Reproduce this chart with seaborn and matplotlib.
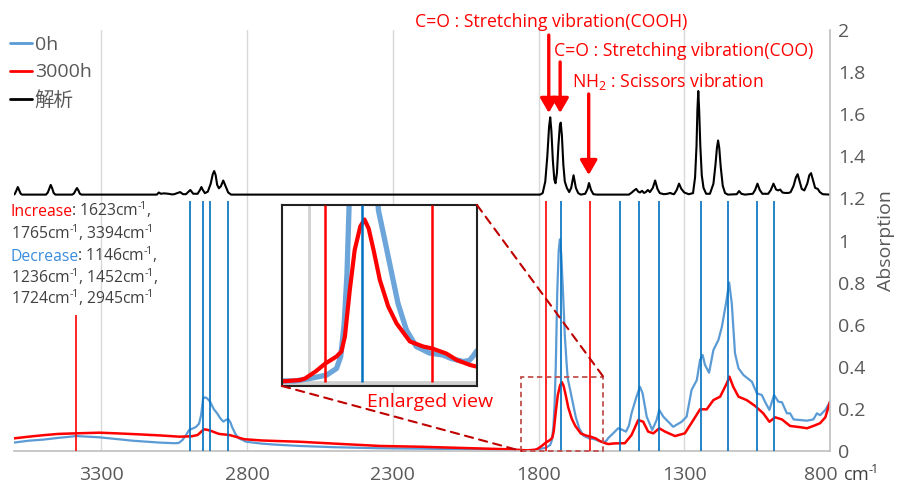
import matplotlib
matplotlib.use('Agg')
import numpy as np
import pandas as pd
import matplotlib.pyplot as plt
import seaborn as sns
from matplotlib.patches import Rectangle, ConnectionPatch
from matplotlib.lines import Line2D
from matplotlib.transforms import ScaledTranslation

# ---------------- data ----------------
series_names = ["0h", "3000h", "解析"]

wn_0h = [3600, 3549, 3500, 3450, 3386, 3307, 3250, 3194, 3101, 3050, 3035, 3022, 3010, 2999, 2985,
         2975, 2965, 2958, 2951, 2945, 2937, 2927, 2915, 2903, 2892, 2882, 2872, 2865, 2857, 2852,
         2840, 2828, 2803, 2750, 2700, 2621, 2500, 2345, 2200, 2002, 1900, 1820, 1798, 1774, 1760,
         1754, 1749, 1745, 1741, 1736, 1731, 1727, 1722, 1716, 1710, 1704, 1700, 1696, 1691, 1681,
         1672, 1660, 1646, 1627, 1608, 1596, 1579, 1570, 1565, 1560, 1544, 1527, 1515, 1500, 1490,
         1481, 1464, 1452, 1443, 1429, 1410, 1395, 1386, 1372, 1355, 1338, 1309, 1292, 1275, 1257,
         1246, 1237, 1229, 1215, 1200, 1183, 1171, 1157, 1146, 1137, 1126, 1114, 1097, 1068, 1051,
         1034, 1023, 1008, 992, 977, 965, 948, 937, 925, 902, 879, 857, 845, 834, 816, 800]
abs_0h = [0.040, 0.049, 0.054, 0.062, 0.071, 0.065, 0.057, 0.049, 0.040, 0.037, 0.038, 0.052, 0.075, 0.100, 0.108,
          0.115, 0.130, 0.170, 0.250, 0.255, 0.250, 0.234, 0.200, 0.179, 0.155, 0.140, 0.148, 0.152, 0.135, 0.115,
          0.080, 0.060, 0.044, 0.035, 0.030, 0.024, 0.018, 0.013, 0.011, 0.008, 0.005, 0.004, 0.009, 0.016, 0.029,
          0.053, 0.119, 0.219, 0.400, 0.750, 0.950, 1.005, 0.930, 0.750, 0.550, 0.420, 0.345, 0.319, 0.286, 0.219,
          0.159, 0.106, 0.073, 0.060, 0.056, 0.049, 0.043, 0.045, 0.053, 0.063, 0.084, 0.108, 0.102, 0.092, 0.120,
          0.179, 0.258, 0.305, 0.274, 0.163, 0.100, 0.147, 0.195, 0.163, 0.139, 0.115, 0.139, 0.163, 0.290, 0.337,
          0.432, 0.456, 0.409, 0.372, 0.480, 0.527, 0.590, 0.700, 0.800, 0.700, 0.464, 0.393, 0.361, 0.329, 0.274,
          0.266, 0.234, 0.195, 0.266, 0.234, 0.232, 0.179, 0.179, 0.150, 0.147, 0.144, 0.150, 0.179, 0.170, 0.195, 0.234]

wn_3000h = [3600, 3550, 3500, 3450, 3386, 3307, 3250, 3170, 3100, 3032, 2990, 2970, 2955, 2947, 2935,
            2923, 2910, 2896, 2875, 2861, 2840, 2810, 2750, 2689, 2621, 2500, 2345, 2200, 2000, 1900,
            1840, 1812, 1805, 1790, 1776, 1760, 1753, 1748, 1741, 1734, 1726, 1720, 1714, 1707, 1698,
            1686, 1674, 1655, 1636, 1623, 1603, 1588, 1569, 1560, 1540, 1504, 1481, 1458, 1441, 1424,
            1406, 1386, 1366, 1332, 1298, 1269, 1246, 1223, 1200, 1177, 1154, 1145, 1132, 1114, 1086,
            1057, 1029, 1008, 988, 965, 937, 902, 879, 857, 834, 816, 800]
abs_3000h = [0.060, 0.068, 0.075, 0.081, 0.084, 0.087, 0.084, 0.079, 0.074, 0.068, 0.070, 0.076, 0.095, 0.103, 0.100,
             0.095, 0.088, 0.081, 0.078, 0.076, 0.068, 0.056, 0.050, 0.047, 0.044, 0.035, 0.024, 0.020, 0.012, 0.008,
             0.003, 0.006, 0.009, 0.023, 0.039, 0.053, 0.063, 0.093, 0.186, 0.266, 0.313, 0.327, 0.309, 0.266, 0.206,
             0.153, 0.119, 0.083, 0.073, 0.069, 0.059, 0.046, 0.036, 0.033, 0.036, 0.037, 0.076, 0.147, 0.139, 0.092,
             0.084, 0.108, 0.092, 0.071, 0.084, 0.147, 0.198, 0.198, 0.242, 0.258, 0.322, 0.353, 0.305, 0.258, 0.242,
             0.214, 0.179, 0.139, 0.160, 0.150, 0.119, 0.113, 0.108, 0.119, 0.132, 0.160, 0.234]

wn_calc = [3600, 3597, 3591, 3587, 3582, 3577, 3572, 3490, 3484, 3478, 3474, 3469, 3464, 3458, 3400,
           3394, 3388, 3384, 3379, 3374, 3368, 3110, 3103, 3096, 3085, 3070, 3058, 3050, 3030, 3020,
           3010, 2995, 2985, 2970, 2961, 2957, 2952, 2945, 2935, 2925, 2918, 2913, 2908, 2903, 2897,
           2890, 2882, 2875, 2865, 2855, 1795, 1786, 1777, 1770, 1764, 1760, 1756, 1751, 1746, 1742,
           1737, 1732, 1727, 1724, 1720, 1715, 1710, 1703, 1695, 1688, 1680, 1672, 1664, 1655, 1640,
           1632, 1627, 1620, 1612, 1600, 1490, 1480, 1472, 1465, 1458, 1452, 1445, 1438, 1432, 1425,
           1418, 1408, 1400, 1392, 1384, 1370, 1358, 1348, 1342, 1335, 1326, 1318, 1310, 1300, 1285,
           1270, 1263, 1258, 1255, 1252, 1249, 1245, 1240, 1234, 1225, 1212, 1200, 1193, 1188, 1184,
           1180, 1175, 1168, 1160, 1150, 1120, 1112, 1104, 1092, 1065, 1057, 1049, 1041, 1032, 1012,
           1003, 994, 985, 978, 971, 963, 955, 942, 935, 925, 917, 911, 905, 897, 888,
           878, 871, 865, 859, 851, 842, 835, 825, 800]
abs_calc = [1.218, 1.222, 1.240, 1.254, 1.238, 1.222, 1.218, 1.218, 1.228, 1.250, 1.264, 1.248, 1.226, 1.218, 1.218,
            1.224, 1.240, 1.249, 1.238, 1.222, 1.218, 1.218, 1.228, 1.222, 1.224, 1.222, 1.219, 1.220, 1.230, 1.220,
            1.220, 1.240, 1.222, 1.222, 1.242, 1.254, 1.240, 1.225, 1.232, 1.270, 1.315, 1.330, 1.310, 1.265, 1.248,
            1.258, 1.285, 1.262, 1.228, 1.218, 1.218, 1.225, 1.280, 1.400, 1.540, 1.585, 1.520, 1.380, 1.290, 1.272,
            1.320, 1.450, 1.545, 1.560, 1.500, 1.360, 1.280, 1.250, 1.230, 1.250, 1.310, 1.250, 1.225, 1.218, 1.222,
            1.245, 1.273, 1.240, 1.220, 1.218, 1.218, 1.228, 1.238, 1.245, 1.232, 1.228, 1.236, 1.226, 1.230, 1.240,
            1.230, 1.250, 1.285, 1.245, 1.225, 1.220, 1.222, 1.226, 1.222, 1.220, 1.240, 1.270, 1.245, 1.228, 1.220,
            1.225, 1.300, 1.450, 1.620, 1.710, 1.620, 1.450, 1.310, 1.250, 1.222, 1.222, 1.270, 1.360, 1.440, 1.475,
            1.440, 1.350, 1.260, 1.225, 1.218, 1.220, 1.235, 1.222, 1.218, 1.222, 1.240, 1.270, 1.240, 1.222, 1.222,
            1.240, 1.270, 1.242, 1.238, 1.242, 1.228, 1.226, 1.226, 1.230, 1.260, 1.300, 1.315, 1.285, 1.245, 1.238,
            1.270, 1.310, 1.320, 1.290, 1.250, 1.245, 1.230, 1.220, 1.218]

increase_lines = [1776, 1623]          # red marker lines
increase_short_line = 3386             # red marker line under the text block
decrease_lines = [2996, 2951, 2929, 2866, 1724, 1519, 1455, 1386, 1243, 1150, 1049, 991]

x_ticks = [3300, 2800, 2300, 1800, 1300, 800]
y_ticks = [0, 0.2, 0.4, 0.6, 0.8, 1, 1.2, 1.4, 1.6, 1.8, 2]
y_tick_labels = ["0", "0.2", "0.4", "0.6", "0.8", "1", "1.2", "1.4", "1.6", "1.8", "2"]

zoom_x = (1859, 1578)      # dashed rectangle / enlarged region
zoom_y = (0.0, 0.353)
inset_xlim = (1838, 1559)
inset_ylim = (-0.006, 0.356)
inset_lines_red = [1776, 1623]
inset_lines_blue = [1724]

arrows = [(1765, 1.976, 1.606), (1726, 1.848, 1.606), (1628, 1.696, 1.311)]

SUP = '$^{\u2010\\!1}$'

# ---------------- styling ----------------
sns.set_theme(style='white')
plt.rcParams['font.family'] = ['Open Sans', 'Noto Sans CJK JP', 'DejaVu Sans']
plt.rcParams['mathtext.fontset'] = 'custom'
plt.rcParams['mathtext.rm'] = 'Open Sans'
plt.rcParams['mathtext.it'] = 'Open Sans:italic'
plt.rcParams['mathtext.bf'] = 'Open Sans:bold'
plt.rcParams['mathtext.default'] = 'regular'

C_BLUE = '#5B9BD5'
C_RED = '#FF0000'
C_VBLUE = '#0070C0'
C_GRAY = '#595959'
C_DARK = '#404040'

W, H = 898, 486
fig = plt.figure(figsize=(W / 100, H / 100), dpi=100)


def fx(px):
    return px / W


def fy(py):
    return 1 - py / H


ax = fig.add_axes([fx(14), fy(451), fx(830) - fx(14), fy(30) - fy(451)])

df0 = pd.DataFrame({'wn': wn_0h, 'abs': abs_0h})
df1 = pd.DataFrame({'wn': wn_3000h, 'abs': abs_3000h})
dfc = pd.DataFrame({'wn': wn_calc, 'abs': abs_calc})

sns.lineplot(data=df0, x='wn', y='abs', ax=ax, color=C_BLUE, lw=1.6, sort=False, estimator=None, zorder=2)
sns.lineplot(data=df1, x='wn', y='abs', ax=ax, color=C_RED, lw=1.8, sort=False, estimator=None, zorder=2.1)
sns.lineplot(data=dfc, x='wn', y='abs', ax=ax, color='black', lw=1.5, sort=False, estimator=None, zorder=2.2)

ax.vlines(increase_lines, 0, 1.19, color=C_RED, lw=1.2, zorder=3)
ax.vlines([increase_short_line], 0, 0.646, color=C_RED, lw=1.2, zorder=3)
ax.vlines(decrease_lines, 0, 1.19, color=C_VBLUE, lw=1.2, zorder=3)

ax.set_xlim(3600, 800)
ax.set_ylim(0, 2)
ax.set_xticks(x_ticks)
ax.set_xticklabels([str(t) for t in x_ticks])
ax.set_yticks(y_ticks)
ax.set_yticklabels(y_tick_labels)
ax.yaxis.tick_right()
ax.yaxis.set_label_position('right')
ax.tick_params(axis='both', length=0, labelsize=14, labelcolor=C_GRAY)
ax.tick_params(axis='x', pad=11)
ax.tick_params(axis='y', pad=6)
ax.set_xlabel('')
ax.set_ylabel('Absorption', fontsize=14, color=C_GRAY, labelpad=8)
ax.grid(False)
for xt in x_ticks[:-1]:
    ax.axvline(xt, color='#D9D9D9', lw=1, zorder=0)
for s in ['left', 'top']:
    ax.spines[s].set_visible(False)
for s in ['right', 'bottom']:
    ax.spines[s].set_color('#BFBFBF')
    ax.spines[s].set_linewidth(1.2)

# shift the 800 label a bit to the left, as in the reference
lab800 = ax.get_xticklabels()[-1]
lab800.set_transform(lab800.get_transform() + ScaledTranslation(-9 / 100, 0, fig.dpi_scale_trans))

fig.text(fx(843), fy(475), 'cm' + SUP, fontsize=13, color=C_DARK, ha='left', va='center')

# legend
handles = [Line2D([], [], color=C_BLUE, lw=2), Line2D([], [], color=C_RED, lw=2),
           Line2D([], [], color='black', lw=2)]
fig.legend(handles, series_names, loc='upper left', bbox_to_anchor=(fx(10), fy(36)),
           frameon=False, fontsize=14, labelcolor=C_GRAY, handlelength=1.15,
           handletextpad=0.12, labelspacing=0.48, borderpad=0, borderaxespad=0)

# arrows
for xw, y0, y1 in arrows:
    ax.annotate('', xy=(xw, y1), xytext=(xw, y0), xycoords='data', textcoords='data',
                arrowprops=dict(arrowstyle='-|>,head_length=0.55,head_width=0.32', color=C_RED,
                                lw=2.4, mutation_scale=16, shrinkA=0, shrinkB=0),
                annotation_clip=False, zorder=5)

# peak annotations
fig.text(fx(415), fy(22), 'C=O : Stretching vibration(COOH)', fontsize=12.7, color=C_RED, ha='left', va='center')
fig.text(fx(554), fy(51), 'C=O : Stretching vibration(COO)', fontsize=12.7, color=C_RED, ha='left', va='center')
fig.text(fx(572), fy(81), 'NH$_{2}$ : Scissors vibration', fontsize=12.7, color=C_RED, ha='left', va='center')

# increase / decrease text block
lines_txt = [
    [('Increase', C_RED), (': 1623cm' + SUP + ',', C_DARK)],
    [('1765cm' + SUP + ', 3394cm' + SUP, C_DARK)],
    [('Decrease', '#3A8DDE'), (': 1146cm' + SUP + ',', C_DARK)],
    [('1236cm' + SUP + ', 1452cm' + SUP + ',', C_DARK)],
    [('1724cm' + SUP + ', 2945cm' + SUP, C_DARK)],
]
line_y = [213, 236, 258, 280, 301]
for pieces, py in zip(lines_txt, line_y):
    last = None
    for txt, col in pieces:
        if last is None:
            last = fig.text(fx(11), fy(py + 7), txt, fontsize=11.3, color=col, ha='left', va='bottom')
        else:
            last = ax.annotate(txt, xy=(1, 0), xycoords=last, xytext=(-1.5, 0), textcoords='offset points',
                               fontsize=11.3, color=col, ha='left', va='bottom', annotation_clip=False)

# dashed rectangle on the main chart
ax.add_patch(Rectangle((zoom_x[0], zoom_y[0]), zoom_x[1] - zoom_x[0], zoom_y[1] - zoom_y[0],
                       fill=False, ls=(0, (3, 2)), ec='#C0504D', lw=1.3, zorder=4, clip_on=False))

# inset (enlarged view)
axi = fig.add_axes([fx(282), fy(386), fx(477) - fx(282), fy(205) - fy(386)])
axi.axvline(1800, color='#D0D0D0', lw=2, zorder=0)
axi.axhline(0, color='#D0D0D0', lw=3.5, zorder=0)
sns.lineplot(data=df0, x='wn', y='abs', ax=axi, color=C_BLUE, lw=3.8, alpha=0.9, sort=False, estimator=None, zorder=2)
sns.lineplot(data=df1, x='wn', y='abs', ax=axi, color=C_RED, lw=3.0, sort=False, estimator=None, zorder=2.1)
axi.vlines(inset_lines_red, 0.003, inset_ylim[1], color=C_RED, lw=1.8, zorder=3)
axi.vlines(inset_lines_blue, 0.003, inset_ylim[1], color=C_VBLUE, lw=1.8, zorder=3)
axi.set_xlim(*inset_xlim)
axi.set_ylim(*inset_ylim)
axi.set_xticks([])
axi.set_yticks([])
axi.set_xlabel('')
axi.set_ylabel('')
for s in axi.spines.values():
    s.set_visible(True)
    s.set_color('#222222')
    s.set_linewidth(1.5)
axi.set_facecolor('white')

for xyA, xyB in [((0, 0), (zoom_x[0], zoom_y[0])), ((1, 1), (zoom_x[1], zoom_y[1]))]:
    cp = ConnectionPatch(xyA=xyA, coordsA=axi.transAxes, xyB=xyB, coordsB=ax.transData,
                         color='#C00000', lw=1.5, ls=(0, (4, 3)), zorder=1)
    fig.add_artist(cp)

fig.text(fx(430), fy(402), 'Enlarged view', fontsize=14, color=C_RED, ha='center', va='center')

fig.savefig('out.png', dpi=100)
